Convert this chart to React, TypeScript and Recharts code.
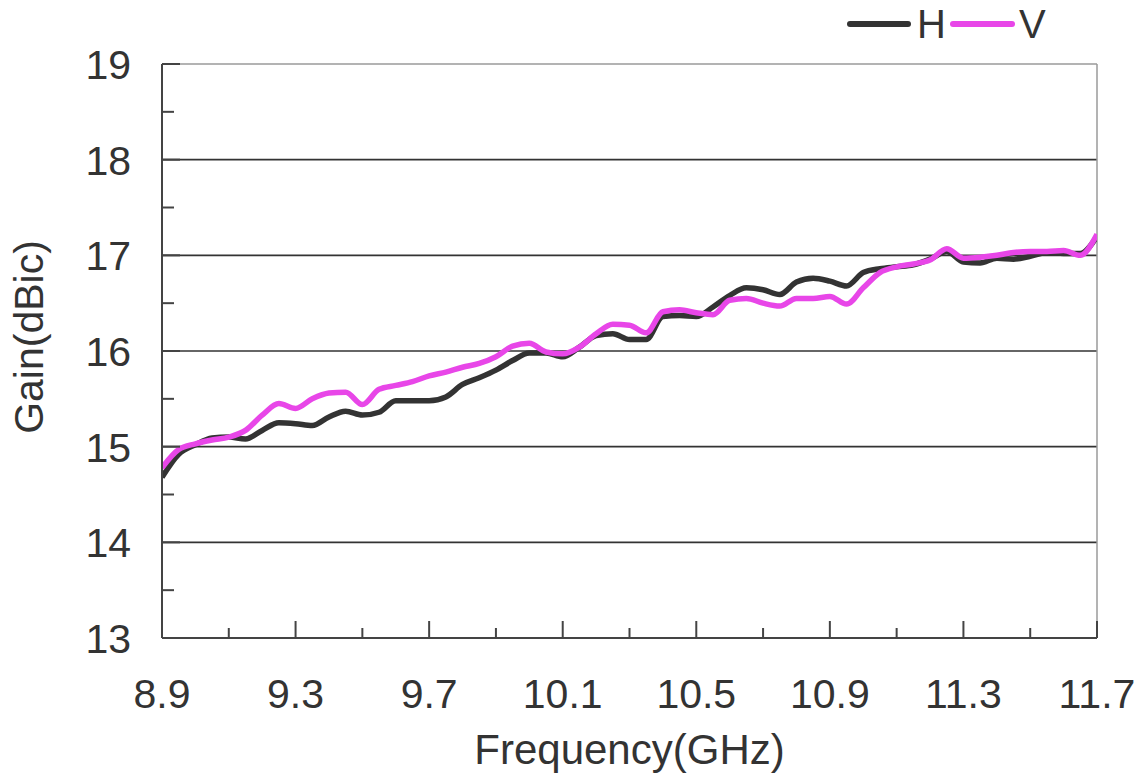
import React from 'react';
import { LineChart, Line, XAxis, YAxis, ReferenceLine, Legend } from 'recharts';

const H_COLOR = '#333333';
const V_COLOR = '#e846e8';
const AXIS_COLOR = '#444444';
const FONT = '"Liberation Sans", Arial, sans-serif';

const freq = [
  8.9, 8.95, 9.0, 9.05, 9.1, 9.15, 9.2, 9.25, 9.3, 9.35, 9.4, 9.45, 9.5, 9.55, 9.6,
  9.65, 9.7, 9.75, 9.8, 9.85, 9.9, 9.95, 10.0, 10.05, 10.1, 10.15, 10.2, 10.25, 10.3,
  10.35, 10.4, 10.45, 10.5, 10.55, 10.6, 10.65, 10.7, 10.75, 10.8, 10.85, 10.9, 10.95,
  11.0, 11.05, 11.1, 11.15, 11.2, 11.25, 11.3, 11.35, 11.4, 11.45, 11.5, 11.55, 11.6,
  11.65, 11.7,
];

const gainH = [
  14.68, 14.92, 15.02, 15.09, 15.1, 15.08, 15.17, 15.25, 15.24, 15.22, 15.31, 15.37, 15.33,
  15.36, 15.48, 15.48, 15.48, 15.52, 15.65, 15.72, 15.8, 15.9, 15.98, 15.98, 15.94, 16.04,
  16.16, 16.18, 16.12, 16.12, 16.36, 16.37, 16.36, 16.46, 16.58, 16.66, 16.64, 16.59, 16.72,
  16.76, 16.73, 16.68, 16.82, 16.86, 16.88, 16.9, 16.96, 17.04, 16.93, 16.92, 16.97, 16.96,
  16.99, 17.03, 17.02, 17.02, 17.2,
];

const gainV = [
  14.78, 14.97, 15.03, 15.07, 15.1, 15.17, 15.33, 15.45, 15.4, 15.5, 15.56, 15.57, 15.44,
  15.6, 15.64, 15.68, 15.74, 15.78, 15.83, 15.87, 15.94, 16.05, 16.08, 15.99, 15.97, 16.04,
  16.18, 16.28, 16.27, 16.19, 16.41, 16.43, 16.4, 16.38, 16.53, 16.55, 16.5, 16.47, 16.55,
  16.55, 16.57, 16.49, 16.66, 16.82, 16.88, 16.91, 16.95, 17.07, 16.97, 16.98, 17.0, 17.03,
  17.04, 17.04, 17.05, 17.0, 17.22,
];

const xTicks = [8.9, 9.1, 9.3, 9.5, 9.7, 9.9, 10.1, 10.3, 10.5, 10.7, 10.9, 11.1, 11.3, 11.5, 11.7];
const xLabels = [8.9, 9.3, 9.7, 10.1, 10.5, 10.9, 11.3, 11.7];
const yTicks = [13, 13.5, 14, 14.5, 15, 15.5, 16, 16.5, 17, 17.5, 18, 18.5, 19];
const gridValues = [14, 15, 16, 17, 18];

const data = freq.map((f, i) => ({ f, H: gainH[i], V: gainV[i] }));

const isIn = (list: number[], v: number) => list.some((l) => Math.abs(l - v) < 1e-6);

const XTick = (props: any) => {
  const { x, y, payload } = props;
  const v = payload.value;
  const major = isIn(xLabels, v);
  return (
    <g>
      <line x1={x} x2={x} y1={y} y2={y - (major ? 17 : 10)} stroke={AXIS_COLOR} strokeWidth={2} />
      {major && (
        <text x={x} y={y + 70} textAnchor="middle" fontSize={41} fill="#333" fontFamily={FONT}>
          {v.toFixed(1)}
        </text>
      )}
    </g>
  );
};

const YTick = (props: any) => {
  const { x, y, payload } = props;
  const v = payload.value;
  const major = Number.isInteger(v);
  return (
    <g>
      <line x1={x} x2={x + (major ? 18 : 12)} y1={y} y2={y} stroke={AXIS_COLOR} strokeWidth={2} />
      {major && (
        <text x={x - 31} y={y + 15} textAnchor="end" fontSize={41} fill="#333" fontFamily={FONT}>
          {v}
        </text>
      )}
    </g>
  );
};

const renderLegend = () => (
  <svg width={1137} height={60} style={{ display: 'block', overflow: 'visible' }}>
    <line x1={850} x2={908} y1={20} y2={20} stroke={H_COLOR} strokeWidth={6} strokeLinecap="round" />
    <text x={917} y={34} fontSize={40} fill="#333" fontFamily={FONT}>H</text>
    <line x1={953} x2={1012} y1={20} y2={20} stroke={V_COLOR} strokeWidth={6} strokeLinecap="round" />
    <text x={1019} y={34} fontSize={40} fill="#333" fontFamily={FONT}>V</text>
  </svg>
);

export default function App() {
  return (
    <div style={{ position: 'absolute', left: 0, top: 0, width: 1137, height: 776, background: '#fff' }}>
      <LineChart width={1137} height={776} data={data} margin={{ top: 4, right: 40, bottom: 0, left: 0 }}>
        <Legend
          verticalAlign="top"
          align="left"
          content={renderLegend}
          wrapperStyle={{ left: 0, width: 1137 }}
        />
        <XAxis
          dataKey="f"
          type="number"
          domain={[8.9, 11.7]}
          ticks={xTicks}
          interval={0}
          height={138}
          tickSize={0}
          tickMargin={0}
          tickLine={false}
          tick={<XTick />}
          axisLine={{ stroke: AXIS_COLOR, strokeWidth: 2 }}
          allowDataOverflow
          label={{
            value: 'Frequency(GHz)',
            position: 'insideBottom',
            offset: 12,
            fontSize: 42,
            fill: '#333',
            fontFamily: FONT,
          }}
        />
        <YAxis
          type="number"
          domain={[13, 19]}
          ticks={yTicks}
          interval={0}
          width={162}
          tickSize={0}
          tickMargin={0}
          tickLine={false}
          tick={<YTick />}
          axisLine={{ stroke: AXIS_COLOR, strokeWidth: 2 }}
          allowDataOverflow
          label={{
            value: 'Gain(dBic)',
            angle: -90,
            position: 'insideLeft',
            offset: 28,
            dy: -14,
            fontSize: 41,
            fill: '#333',
            fontFamily: FONT,
            style: { textAnchor: 'middle' },
          }}
        />
        {gridValues.map((g) => (
          <ReferenceLine key={g} y={g} stroke="#333" strokeWidth={1.6} />
        ))}
        <ReferenceLine y={19} stroke="#9a9a9a" strokeWidth={1.5} />
        <ReferenceLine x={11.7} stroke="#9a9a9a" strokeWidth={1.5} />
        <Line
          type="monotone"
          dataKey="H"
          stroke={H_COLOR}
          strokeWidth={5.5}
          dot={false}
          isAnimationActive={false}
          legendType="line"
        />
        <Line
          type="monotone"
          dataKey="V"
          stroke={V_COLOR}
          strokeWidth={5.5}
          dot={false}
          isAnimationActive={false}
          legendType="line"
        />
      </LineChart>
    </div>
  );
}
